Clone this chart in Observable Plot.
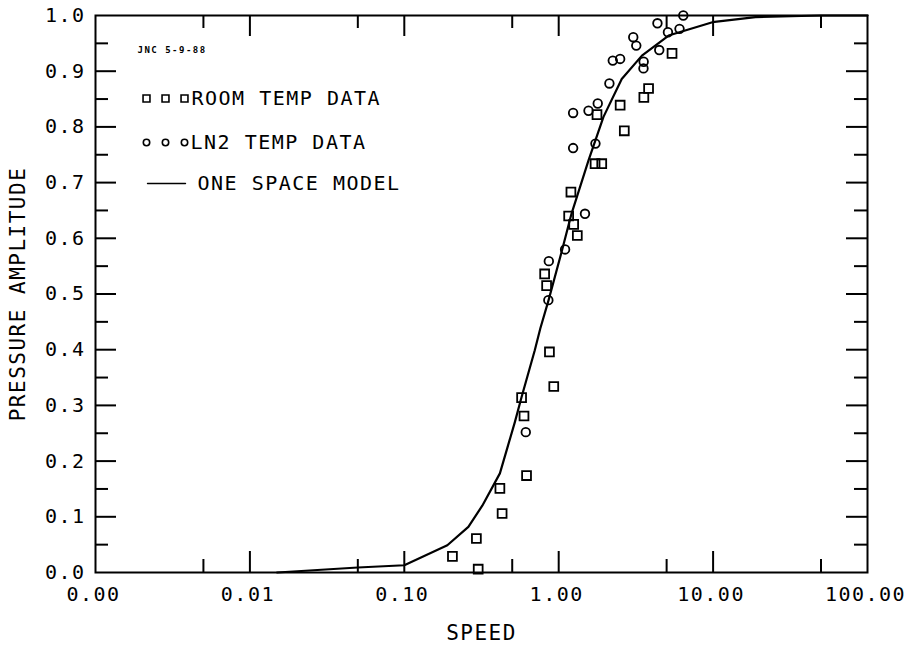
<!DOCTYPE html>
<html><head><meta charset="utf-8">
<script src="https://cdn.jsdelivr.net/npm/d3@7"></script>
<script src="https://cdn.jsdelivr.net/npm/@observablehq/plot@0.6"></script>
<style>
body{margin:0;background:#fff}
svg text{letter-spacing:1.5px}
</style></head><body><div id="chart"></div>
<script>
// ---- data ----
const roomSpeed = [5.42, 3.82, 3.56, 2.50, 1.77, 2.66, 1.72, 1.90, 1.20, 1.16, 1.25, 1.32, 0.811, 0.835, 0.929, 0.871, 0.575, 0.596, 0.619, 0.416, 0.430, 0.293, 0.301, 0.205];
const roomAmp   = [0.932, 0.869, 0.853, 0.839, 0.822, 0.793, 0.734, 0.734, 0.683, 0.640, 0.625, 0.605, 0.536, 0.515, 0.334, 0.396, 0.314, 0.281, 0.174, 0.151, 0.106, 0.061, 0.006, 0.029];
const ln2Speed  = [6.41, 4.36, 5.10, 6.06, 3.04, 3.18, 4.48, 2.24, 2.50, 3.55, 3.54, 2.13, 1.79, 1.56, 1.24, 1.73, 1.24, 1.48, 1.10, 0.863, 0.857, 0.612];
const ln2Amp    = [1.0, 0.986, 0.970, 0.976, 0.961, 0.946, 0.938, 0.919, 0.922, 0.917, 0.905, 0.878, 0.842, 0.829, 0.825, 0.770, 0.762, 0.644, 0.580, 0.559, 0.489, 0.252];
const modelSpeed = [0.015, 0.05, 0.1, 0.19, 0.26, 0.32, 0.416, 0.52, 0.575, 0.70, 0.76, 0.86, 1.05, 1.21, 1.56, 1.95, 2.56, 3.46, 5.15, 9.9, 18.8, 50, 100];
const modelAmp   = [0.0, 0.009, 0.013, 0.049, 0.082, 0.120, 0.178, 0.270, 0.315, 0.399, 0.438, 0.489, 0.578, 0.644, 0.740, 0.818, 0.886, 0.928, 0.964, 0.988, 0.997, 1.0, 1.0];

const xTickValues = [0.001, 0.01, 0.1, 1, 10, 100];
const xTickLabels = ["0.00", "0.01", "0.10", "1.00", "10.00", "100.00"];
const xMajorTicks = [0.01, 0.1, 1, 10];
const xMinorTicks = [0.005, 0.05, 0.5, 5, 50];
const yTickValues = [0, 0.1, 0.2, 0.3, 0.4, 0.5, 0.6, 0.7, 0.8, 0.9, 1.0];
const yTickLabels = ["0.0", "0.1", "0.2", "0.3", "0.4", "0.5", "0.6", "0.7", "0.8", "0.9", "1.0"];
const yMajorTicks = [0.1, 0.2, 0.3, 0.4, 0.5, 0.6, 0.7, 0.8, 0.9];
const yMinorTicks = [0.05, 0.15, 0.25, 0.35, 0.45, 0.55, 0.65, 0.75, 0.85, 0.95];
const legendLabels = ["ROOM TEMP DATA", "LN2 TEMP DATA", "ONE SPACE MODEL"];
const stampText = "JNC 5-9-88";
const xLabel = "SPEED";
const yLabel = "PRESSURE AMPLITUDE";

// ---- tables ----
const room = roomSpeed.map((s, i) => ({speed: s, amp: roomAmp[i]}));
const ln2 = ln2Speed.map((s, i) => ({speed: s, amp: ln2Amp[i]}));
const model = modelSpeed.map((s, i) => ({speed: s, amp: modelAmp[i]}));

const W = 906, H = 645, mL = 95, mR = 39, mT = 15, mB = 73;
const iW = W - mL - mR, iH = H - mT - mB;
const majLen = 21, minLen = 13;
const font = "'DejaVu Sans Mono', monospace";

const lineShape = {draw(ctx, l) { ctx.moveTo(0, 0); ctx.lineTo(0, -l); }};

const legendMarks = [];
[51, 70, 89].forEach(dx => {
  legendMarks.push(Plot.dot([0], {frameAnchor: "top-left", dx, dy: 83, symbol: "square", r: 3.9, stroke: "#000", strokeWidth: 1.6}));
  legendMarks.push(Plot.dot([0], {frameAnchor: "top-left", dx, dy: 127, symbol: "circle", r: 3.2, stroke: "#000", strokeWidth: 1.6}));
});
const legText = (label, dx, dy) => Plot.text([label], {frameAnchor: "top-left", dx, dy, text: d => d, textAnchor: "start", lineAnchor: "middle", fontSize: 20});
legendMarks.push(legText(legendLabels[0], 96, 83));
legendMarks.push(legText(legendLabels[1], 95, 127));
legendMarks.push(Plot.vector([0], {frameAnchor: "top-left", dx: 52, dy: 168, length: 38, rotate: 90, anchor: "start", shape: lineShape, stroke: "#000", strokeWidth: 1.4}));
legendMarks.push(legText(legendLabels[2], 102, 168));
legendMarks.push(Plot.text([stampText], {frameAnchor: "top-left", dx: 42, dy: 35, text: d => d, textAnchor: "start", lineAnchor: "middle", fontSize: 9, fontWeight: "bold"}));

const chart = Plot.plot({
  width: W, height: H,
  marginLeft: mL, marginRight: mR, marginTop: mT, marginBottom: mB,
  style: {fontFamily: font, fontSize: "20px", color: "#000", background: "#fff"},
  x: {type: "log", domain: [0.001, 100]},
  y: {domain: [0, 1]},
  marks: [
    Plot.frame({stroke: "#000", strokeWidth: 2}),
    Plot.tickX(xMajorTicks, {x: d => d, insetTop: iH - majLen, strokeWidth: 2}),
    Plot.tickX(xMinorTicks, {x: d => d, insetTop: iH - minLen, strokeWidth: 2}),
    Plot.tickX(xMajorTicks, {x: d => d, insetBottom: iH - majLen, strokeWidth: 2}),
    Plot.tickX(xMinorTicks, {x: d => d, insetBottom: iH - minLen, strokeWidth: 2}),
    Plot.tickY(yMajorTicks, {y: d => d, insetRight: iW - majLen, strokeWidth: 2}),
    Plot.tickY(yMinorTicks, {y: d => d, insetRight: iW - minLen, strokeWidth: 2}),
    Plot.tickY(yMajorTicks, {y: d => d, insetLeft: iW - majLen, strokeWidth: 2}),
    Plot.tickY(yMinorTicks, {y: d => d, insetLeft: iW - minLen, strokeWidth: 2}),
    Plot.axisX({ticks: xTickValues, tickFormat: d => xTickLabels[xTickValues.indexOf(d)], tickSize: 0, tickPadding: 14, label: null, dx: -2, fontSize: 20}),
    Plot.axisY({ticks: yTickValues, tickFormat: d => yTickLabels[yTickValues.indexOf(d)], tickSize: 0, tickPadding: 10, label: null, fontSize: 20}),
    Plot.line(model, {x: "speed", y: "amp", stroke: "#000", strokeWidth: 2.2}),
    Plot.dot(room, {x: "speed", y: "amp", symbol: "square", r: 5, stroke: "#000", strokeWidth: 1.8}),
    Plot.dot(ln2, {x: "speed", y: "amp", symbol: "circle", r: 4.3, stroke: "#000", strokeWidth: 1.8}),
    ...legendMarks,
    Plot.text([xLabel], {frameAnchor: "bottom", dy: 61, text: d => d, textAnchor: "middle", lineAnchor: "middle", fontSize: 21}),
    Plot.text([yLabel], {frameAnchor: "left", dx: -77, rotate: -90, text: d => d, textAnchor: "middle", lineAnchor: "middle", fontSize: 21})
  ]
});
document.getElementById("chart").appendChild(chart);
</script>
</body></html>
